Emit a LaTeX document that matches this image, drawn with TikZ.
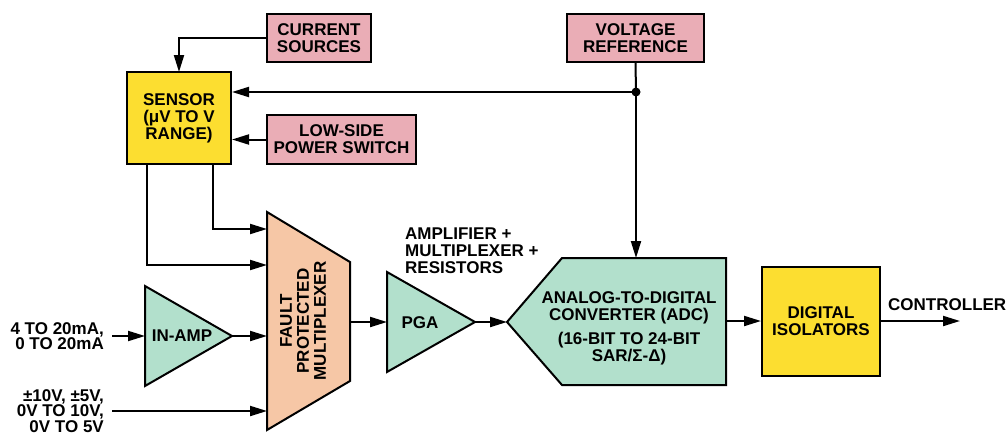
\documentclass[tikz,border=0pt]{standalone}
\usepackage{fontspec}
\setmainfont{Liberation Sans}
\usetikzlibrary{arrows.meta}
\definecolor{pinkc}{RGB}{234,173,182}
\definecolor{yellowc}{RGB}{252,222,48}
\definecolor{greenc}{RGB}{178,224,204}
\definecolor{peachc}{RGB}{246,199,166}
\tikzset{
  lbl/.style={font=\fontsize{17}{17}\selectfont\bfseries, align=center, inner sep=0pt},
  sidelbl/.style={font=\fontsize{17}{15.5}\selectfont\bfseries, inner sep=0pt},
  pinkbox/.style={draw, line width=2pt, fill=pinkc, lbl},
  yellowbox/.style={draw, line width=2pt, fill=yellowc, lbl},
  shapefill/.style={draw, line width=2pt, line join=miter},
  conn/.style={line width=2pt, -{Triangle[length=17pt,width=10pt]}},
  wire/.style={line width=2pt},
}
\begin{document}
\begin{tikzpicture}[x=1pt,y=-1pt]
\useasboundingbox (0,0) rectangle (1008,434);
% boxes
\node[pinkbox, minimum width=104pt, minimum height=48pt] (cur) at (319,38) {CURRENT\\SOURCES};
\node[pinkbox, minimum width=137pt, minimum height=48pt] (vref) at (635.5,38) {VOLTAGE\\REFERENCE};
\node[yellowbox, minimum width=104pt, minimum height=92pt] (sensor) at (179,118) {SENSOR\\(μV TO V\\RANGE)};
\node[pinkbox, minimum width=149pt, minimum height=49pt] (lss) at (341.5,139.5) {LOW-SIDE\\POWER SWITCH};
\node[yellowbox, minimum width=118pt, minimum height=109pt] (iso) at (821,321.5) {DIGITAL\\ISOLATORS};
% multiplexer trapezoid
\draw[shapefill, fill=peachc] (267,212) -- (350,262) -- (350,381) -- (267,430) -- cycle;
\node[lbl, rotate=90] (mux) at (303,321) {FAULT\\PROTECTED\\MULTIPLEXER};
\coordinate (muxout) at (350,322);
\coordinate (muxin1) at (267,229);
\coordinate (muxin2) at (267,265);
\coordinate (muxin3) at (267,336);
\coordinate (muxin4) at (267,411);
% in-amp
\draw[shapefill, fill=greenc] (145,286) -- (232,336) -- (145,386) -- cycle;
\node[lbl] (inamp) at (182,336) {IN-AMP};
\coordinate (inampin) at (145,336);
\coordinate (inampout) at (232,336);
% PGA
\draw[shapefill, fill=greenc] (387,272) -- (475,322) -- (387,372) -- cycle;
\node[lbl] (pga) at (420,323) {PGA};
\coordinate (pgain) at (387,322);
\coordinate (pgaout) at (475,322);
% ADC
\draw[shapefill, fill=greenc] (507,322) -- (562,258) -- (726,258) -- (726,385) -- (562,385) -- cycle;
\node[lbl] (adc) at (629,308) {ANALOG-TO-DIGITAL\\CONVERTER (ADC)};
\node[lbl] (adc2) at (629,348.5) {(16-BIT TO 24-BIT\\SAR/Σ-Δ)};
\coordinate (adcin) at (507,322);
\coordinate (adcout) at (726,321);
\coordinate (adctop) at (636,258);
% labels
\node[lbl, align=left, anchor=west] (amplbl) at (405,250.5) {AMPLIFIER +\\MULTIPLEXER +\\RESISTORS};
\node[sidelbl, align=right, anchor=east] (in1) at (104,336) {4 TO 20mA,\\0 TO 20mA};
\node[sidelbl, align=right, anchor=east] (in2) at (104,411) {±10V, ±5V,\\0V TO 10V,\\0V TO 5V};
\node[lbl, anchor=west] (ctrl) at (888,305) {CONTROLLER};
\coordinate (ctrlend) at (960,321);
\coordinate (in1end) at (112,336);
\coordinate (in2end) at (112,411);
\coordinate (sensTop) at (179,72);
\coordinate (sensB1) at (213,164);
\coordinate (sensB2) at (147,164);
% connectors
\coordinate (junc) at (636,92);
\draw[conn] (cur.west) -| (sensTop);
\draw[wire] (vref.south) -- (junc);
\draw[conn] (junc) -- (adctop);
\draw[conn] (junc) -- (sensor.east |- junc);
\fill (junc) circle (4.5pt);
\draw[conn] (lss.west) -- (sensor.east |- lss.west);
\draw[conn] (sensB1) |- (muxin1);
\draw[conn] (sensB2) |- (muxin2);
\draw[conn] (in1end) -- (inampin);
\draw[conn] (inampout) -- (muxin3);
\draw[conn] (in2end) -- (muxin4);
\draw[conn] (muxout) -- (pgain);
\draw[conn] (pgaout) -- (adcin);
\draw[conn] (adcout) -- (iso.west |- adcout);
\draw[conn] (iso.east |- ctrlend) -- (ctrlend);
\end{tikzpicture}
\end{document}
